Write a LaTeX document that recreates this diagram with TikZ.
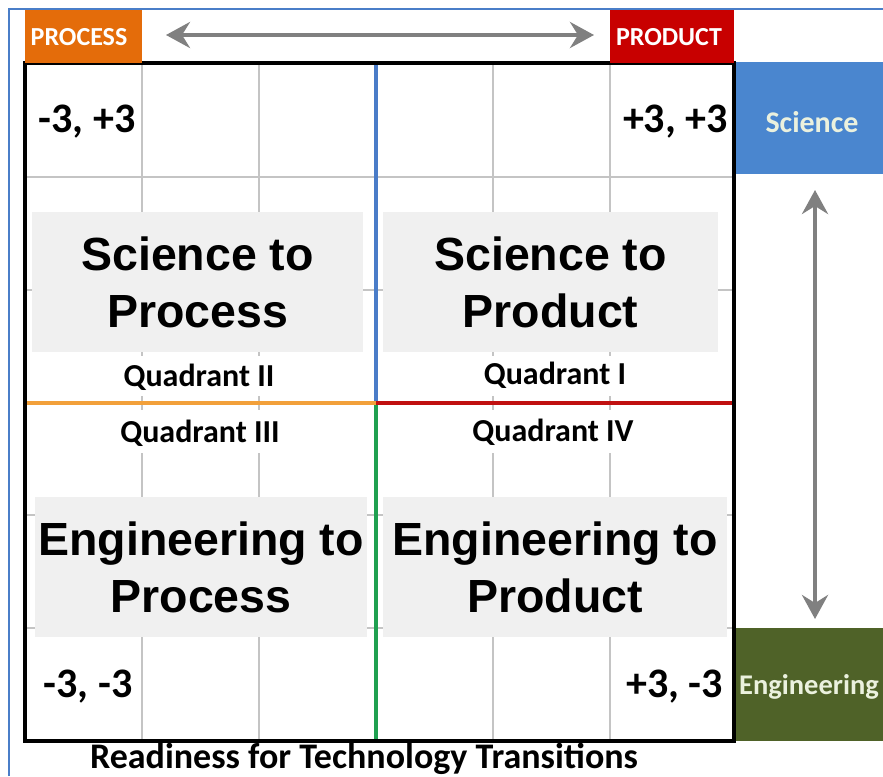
\documentclass[tikz,border=0pt]{standalone}
\usepackage{fontspec}
\setmainfont{Liberation Sans}
\newfontfamily\calfont{Carlito}
\usetikzlibrary{arrows.meta}
\definecolor{frameblue}{HTML}{4A7EC8}
\definecolor{gridgray}{HTML}{C4C4C4}
\definecolor{boxgray}{HTML}{F0F0F0}
\definecolor{procorange}{HTML}{E46C0A}
\definecolor{prodred}{HTML}{C80000}
\definecolor{sciblue}{HTML}{4A86CF}
\definecolor{enggreen}{HTML}{4F6228}
\definecolor{engtext}{HTML}{EBF1DE}
\definecolor{lineblue}{HTML}{4A7CC8}
\definecolor{linegreen}{HTML}{1FA050}
\definecolor{lineorange}{HTML}{F2A03A}
\definecolor{linered}{HTML}{C01010}
\definecolor{arrowgray}{HTML}{808080}
\begin{document}
\begin{tikzpicture}[x=1pt,y=-1pt,
  gridline/.style={draw=gridgray, line width=1.6pt},
  gbox/.style={fill=boxgray, inner sep=0pt, align=center,
    font=\bfseries\fontsize{46.5}{57}\selectfont},
  qlab/.style={inner sep=0pt, font=\calfont\bfseries\fontsize{32}{36}\selectfont},
  corner/.style={inner sep=0pt, font=\calfont\bfseries\fontsize{42}{48}\selectfont},
  tagbox/.style={inner sep=0pt, text=white, font=\calfont\bfseries\fontsize{26}{30}\selectfont},
  sidebox/.style={inner sep=0pt, minimum width=147pt, minimum height=111pt},
  grayarrow/.style={draw=arrowgray, line width=4pt,
    {Stealth[length=24pt,width=26pt,inset=8pt]}-{Stealth[length=24pt,width=26pt,inset=8pt]}},
  quadline/.style={line width=3.6pt}
]
\useasboundingbox (0,0) rectangle (883,776);
\fill[white] (0,0) rectangle (883,776);
% outer frame
\draw[frameblue, line width=1.5pt] (9,776) -- (9,9) -- (883,9);

% grid
\foreach \gx in {142,259,493,610} {\draw[gridline] (\gx,63) -- (\gx,741);}
\foreach \gy in {177,290,515,628} {\draw[gridline] (25,\gy) -- (734,\gy);}

% white bands behind quadrant labels
\fill[white] (30,356) rectangle (364,396);
\fill[white] (30,410) rectangle (364,453);
\fill[white] (384,356) rectangle (726,396);
\fill[white] (384,410) rectangle (726,453);

% grey text boxes
\node[gbox, minimum width=331pt, minimum height=140pt] (sp) at (197.5,282) {Science to\\Process};
\node[gbox, minimum width=335pt, minimum height=140pt] (spr) at (550.5,282) {Science to\\Product};
\node[gbox, minimum width=332pt, minimum height=140pt] (ep) at (201,567) {Engineering to\\Process};
\node[gbox, minimum width=344pt, minimum height=140pt] (epr) at (555,567) {Engineering to\\Product};

% quadrant lines
\draw[quadline, lineblue] (376,63) -- (376,403);
\draw[quadline, linegreen] (376,403) -- (376,741);
\draw[quadline, lineorange] (25,403) -- (376,403);
\draw[quadline, linered] (376,403) -- (734,403);

% border
\draw[line width=4pt] (25,63) rectangle (734,741);

% quadrant labels
\node[qlab] (q2) at (199,377) {Quadrant II};
\node[qlab] (q3) at (200,433) {Quadrant III};
\node[qlab] (q1) at (555,375) {Quadrant I};
\node[qlab] (q4) at (553,432) {Quadrant IV};

% corner labels
\node[corner] (c1) at (87,122) {-3, +3};
\node[corner, anchor=east] (c2) at (728,122) {+3, +3};
\node[corner] (c3) at (88,687) {-3, -3};
\node[corner, anchor=east] (c4) at (723,687) {+3, -3};

% top tags
\node[tagbox, fill=procorange, minimum width=117pt, minimum height=53pt] (proc) at (83.5,36.5) {};
\node[tagbox] (proct) at (79,37) {PROCESS};
\node[tagbox, fill=prodred, minimum width=124pt, minimum height=53pt] (prod) at (672,36.5) {};
\node[tagbox] (prodt) at (669,37) {PRODUCT};

% side tags
\begin{scope}
\clip (0,0) rectangle (883,776);
\node[sidebox, fill=sciblue] (sci) at (809.5,118) {};
\node[tagbox, font=\calfont\bfseries\fontsize{30}{32}\selectfont, text=engtext] (scit) at (812,122) {Science};
\node[sidebox, fill=enggreen, minimum height=113pt] (eng) at (809.5,684.5) {};
\node[tagbox, anchor=west, text=engtext, font=\calfont\bfseries\fontsize{28.5}{32}\selectfont] (engt) at (739,687) {Engineering};
\end{scope}

% arrows
\coordinate (hl) at (166,35);
\coordinate (hr) at (594,35);
\draw[grayarrow] (hl) -- (hr);
\coordinate (vt) at (815,190);
\coordinate (vb) at (815,619);
\draw[grayarrow] (vt) -- (vb);

% caption
\node[inner sep=0pt, font=\calfont\bfseries\fontsize{36}{40}\selectfont] (cap) at (364,759) {Readiness for Technology Transitions};
\end{tikzpicture}
\end{document}
